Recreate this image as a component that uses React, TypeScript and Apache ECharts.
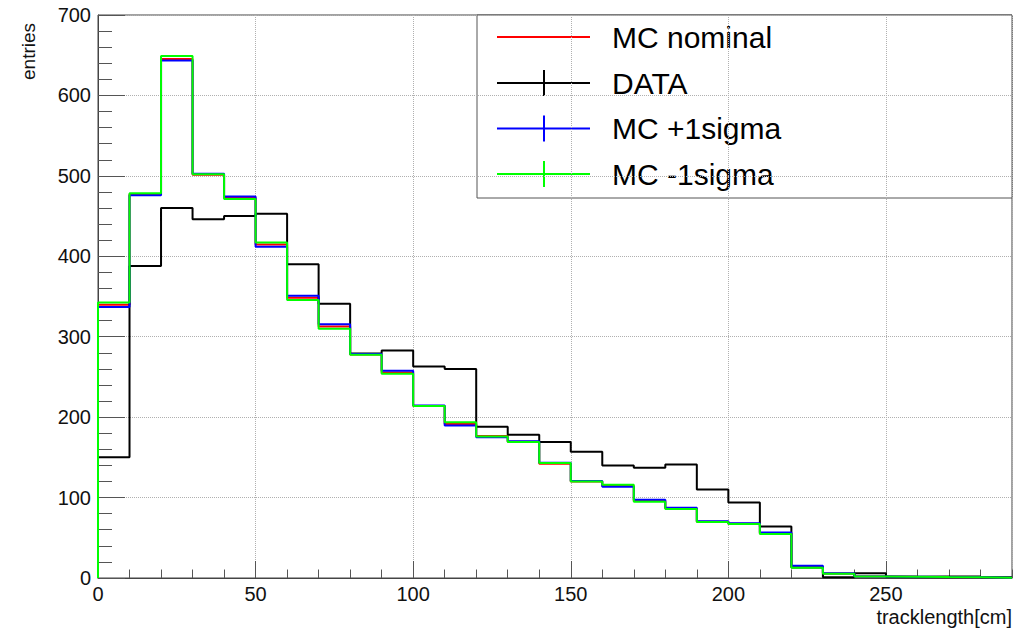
import React, { useEffect, useRef } from "react";
import * as echarts from "echarts";

// Bin lower edges (cm) plus the final upper edge
const binEdges = [0, 10, 20, 30, 40, 50, 60, 70, 80, 90, 100, 110, 120, 130, 140, 150, 160, 170, 180, 190, 200, 210, 220, 230, 240, 250, 260, 270, 280, 290];

const dataCounts = [150, 388, 460, 446, 450, 453, 390, 341, 279, 283, 263, 260, 188, 178, 169, 157, 140, 137, 141, 110, 94, 64, 13, 1, 6, 1.5, 2, 2, 1];
const mcNominal = [339.6, 477, 645.3, 501.5, 472.8, 414.6, 348.3, 312.7, 278, 255.5, 214, 191.4, 176.5, 169.5, 142, 120, 114.5, 96, 86.5, 70, 67.5, 55.5, 14, 5.5, 2, 1.5, 1.2, 1, 0.3];
const mcPlus1 = [336.8, 476, 643.3, 502.5, 474.2, 412, 350.8, 315.6, 278.5, 257.6, 214.5, 189.7, 175, 170, 143.3, 120.5, 113.5, 97.3, 87.5, 70.5, 68, 56.7, 15.3, 6, 2, 1.6, 1.2, 1, 0.3];
const mcMinus1 = [342.5, 478.4, 649, 502, 471.3, 417, 345.8, 309.8, 277.5, 253.9, 213.7, 193.8, 176, 169, 142.9, 120, 116, 94.8, 85.7, 69.6, 67.1, 54.7, 12.8, 5.3, 2, 1.6, 1.2, 1, 0.3];

const legendNames = ["MC nominal", "DATA", "MC +1sigma", "MC -1sigma"];
const legendColors = ["#ff0000", "#000000", "#0000ff", "#00ff00"];
const legendHasBar = [false, true, true, true];

const xTitle = "tracklength[cm]";
const yTitle = "entries";

const FONT = "'Liberation Sans', Arial, Helvetica, sans-serif";

function toStep(values: number[]): number[][] {
  const pts: number[][] = [[binEdges[0], 0]];
  values.forEach((v, i) => pts.push([binEdges[i], v]));
  pts.push([binEdges[binEdges.length - 1], values[values.length - 1]]);
  return pts;
}

export default function App() {
  const ref = useRef<HTMLDivElement>(null);

  useEffect(() => {
    if (!ref.current) return;
    const chart = echarts.init(ref.current, undefined, { renderer: "svg" });

    const mkSeries = (name: string, color: string, values: number[], z: number) => ({
      name,
      type: "line",
      step: "end",
      data: toStep(values),
      showSymbol: false,
      symbol: "none",
      lineStyle: { color, width: 2 },
      itemStyle: { color },
      z,
      xAxisIndex: 0,
      yAxisIndex: 0,
    });

    const rowY = [37, 83, 128.5, 174];
    const legendChildren: any[] = [
      {
        type: "rect",
        shape: { x: 477, y: 15, width: 535, height: 183 },
        style: { fill: "#ffffff", stroke: "#555555", lineWidth: 1 },
      },
    ];
    legendNames.forEach((n, i) => {
      legendChildren.push({
        type: "line",
        shape: { x1: 497, y1: rowY[i], x2: 590, y2: rowY[i] },
        style: { stroke: legendColors[i], lineWidth: 2 },
      });
      if (legendHasBar[i]) {
        legendChildren.push({
          type: "line",
          shape: { x1: 544, y1: rowY[i] - 13, x2: 544, y2: rowY[i] + 13 },
          style: { stroke: legendColors[i], lineWidth: 2 },
        });
      }
      legendChildren.push({
        type: "text",
        x: 612,
        y: rowY[i],
        style: {
          text: n,
          fontSize: 30,
          fontFamily: FONT,
          fill: "#000000",
          align: "left",
          verticalAlign: "middle",
        },
      });
    });

    const option: any = {
      animation: false,
      backgroundColor: "#ffffff",
      grid: {
        left: 98,
        top: 15,
        right: 2,
        bottom: 53,
        show: true,
        borderColor: "#444444",
        borderWidth: 1,
        backgroundColor: "transparent",
        containLabel: false,
      },
      xAxis: [
        {
          type: "value",
          position: "bottom",
          min: 0,
          max: 290,
          interval: 50,
          axisLine: { show: true, lineStyle: { color: "#444444", width: 1 } },
          axisTick: { show: true, inside: true, length: 17, lineStyle: { color: "#555555", width: 1 } },
          axisLabel: {
            show: true,
            showMaxLabel: false,
            margin: 6,
            fontSize: 20,
            fontFamily: FONT,
            color: "#111111",
          },
          splitLine: { show: true, lineStyle: { color: "#b0b0b0", type: "dotted", width: 1 } },
        },
        {
          type: "value",
          position: "bottom",
          offset: 0,
          min: 0,
          max: 290,
          interval: 10,
          axisLine: { show: false },
          axisTick: { show: true, inside: true, length: 8.5, lineStyle: { color: "#555555", width: 1 } },
          axisLabel: { show: false },
          splitLine: { show: false },
        },
      ],
      yAxis: [
        {
          type: "value",
          min: 0,
          max: 700,
          interval: 100,
          axisLine: { show: true, lineStyle: { color: "#444444", width: 1 } },
          axisTick: { show: true, inside: true, length: 27, lineStyle: { color: "#555555", width: 1 } },
          minorTick: { show: true, splitNumber: 5, length: 14, lineStyle: { color: "#555555", width: 1 } },
          axisLabel: {
            show: true,
            margin: 7,
            fontSize: 20,
            fontFamily: FONT,
            color: "#111111",
          },
          splitLine: { show: true, lineStyle: { color: "#b0b0b0", type: "dotted", width: 1 } },
        },
      ],
      series: [
        mkSeries(legendNames[0], legendColors[0], mcNominal, 2),
        mkSeries(legendNames[1], legendColors[1], dataCounts, 3),
        mkSeries(legendNames[2], legendColors[2], mcPlus1, 4),
        mkSeries(legendNames[3], legendColors[3], mcMinus1, 5),
      ],
      graphic: [
        { type: "group", z: 100, children: legendChildren },
        {
          type: "text",
          x: 28,
          y: 80,
          rotation: Math.PI / 2,
          style: {
            text: yTitle,
            fontSize: 19,
            fontFamily: FONT,
            fill: "#111111",
            align: "left",
            verticalAlign: "middle",
          },
        },
        {
          type: "text",
          x: 1012,
          y: 617,
          style: {
            text: xTitle,
            fontSize: 20,
            fontFamily: FONT,
            fill: "#111111",
            align: "right",
            verticalAlign: "middle",
          },
        },
      ],
    };

    chart.setOption(option);
    return () => chart.dispose();
  }, []);

  return (
    <div
      ref={ref}
      style={{ position: "absolute", left: 0, top: 0, width: 1014, height: 631, background: "#ffffff" }}
    />
  );
}
